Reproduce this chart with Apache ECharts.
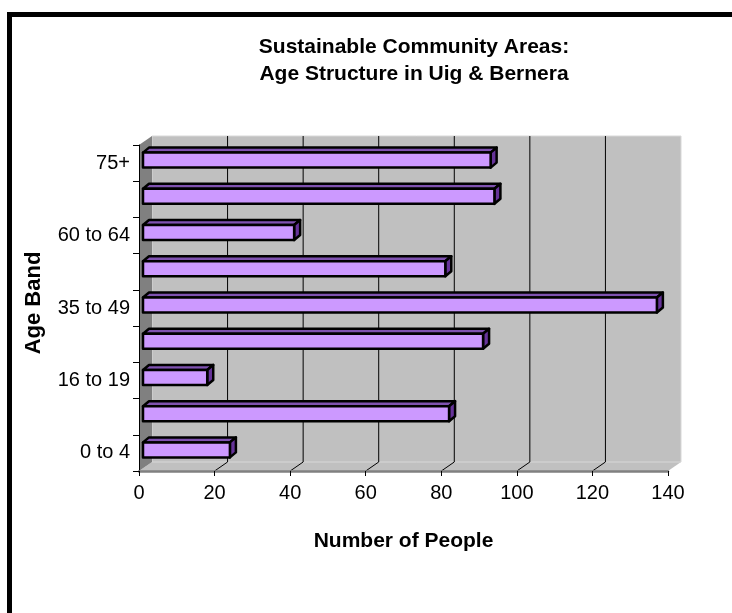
<!DOCTYPE html>
<html>
<head>
<meta charset="utf-8">
<script src="https://cdn.jsdelivr.net/npm/echarts@6/dist/echarts.min.js"></script>
<style>
html, body {margin:0; padding:0; background:#fff;}
#main {width:732px; height:613px;}
</style>
</head>
<body>
<div id="main"></div>
<script>
// age bands from bottom to top (only every other one is labelled)
var ageBands = ['0 to 4', '5 to 15', '16 to 19', '20 to 34', '35 to 49', '50 to 59', '60 to 64', '65 to 74', '75+'];
var people = [23, 81, 17, 90, 136, 80, 40, 93, 92];
var peopleTicks = [0, 20, 40, 60, 80, 100, 120, 140];

var FONT = "'Liberation Sans', Arial, sans-serif";

//3d box depth
var DX = 13, DY = -9;
//bar placement inside the box
var BAR_DX = 4, BAR_DY = -3, BAR_H = 15, TOP_DX = 6, TOP_DY = -5;

function renderWalls(params, api){
    var cs = params.coordSys;
    var x = cs.x, y = cs.y, w = cs.width, h = cs.height;
    var children = [];
    //floor
    children.push({type: 'polygon', shape: {points: [[x, y + h], [x + w, y + h], [x + w + DX, y + h + DY], [x + DX, y + h + DY]]},
        style: {fill: '#c0c0c0'}});
    //back wall
    children.push({type: 'rect', shape: {x: x + DX, y: y + DY, width: w, height: h},
        style: {fill: '#c0c0c0', stroke: '#d8d8d8', lineWidth: 1}});
    //side wall
    children.push({type: 'polygon', shape: {points: [[x, y], [x + DX, y + DY], [x + DX, y + h + DY], [x, y + h]]},
        style: {fill: '#808080'}});
    //gridlines on floor + back wall
    for (var i = 1; i < peopleTicks.length - 1; i++) {
        var px = api.coord([peopleTicks[i], 0])[0];
        children.push({type: 'polyline', shape: {points: [[px, y + h], [px + DX, y + h + DY], [px + DX, y + DY]]},
            style: {stroke: '#000', lineWidth: 1, fill: null}});
    }
    return {type: 'group', children: children};
}

function renderBar(params, api){
    var end = api.coord([api.value(0), api.value(1)]);
    var start = api.coord([0, api.value(1)]);
    var cy = end[1] + BAR_DY;
    var x0 = start[0] + BAR_DX, x1 = end[0] + BAR_DX;
    var y0 = cy - BAR_H / 2, y1 = cy + BAR_H / 2;
    var line = {stroke: '#000', lineWidth: 2.5, lineJoin: 'round'};
    return {type: 'group', children: [
        {type: 'polygon', shape: {points: [[x0, y0], [x0 + TOP_DX, y0 + TOP_DY], [x1 + TOP_DX, y0 + TOP_DY], [x1, y0]]},
            style: Object.assign({fill: '#7f52b0'}, line)},
        {type: 'polygon', shape: {points: [[x1, y0], [x1 + TOP_DX, y0 + TOP_DY], [x1 + TOP_DX, y1 + TOP_DY], [x1, y1]]},
            style: Object.assign({fill: '#663399'}, line)},
        {type: 'rect', shape: {x: x0, y: y0, width: x1 - x0, height: BAR_H},
            style: Object.assign({fill: '#cc99ff'}, line)}
    ]};
}

var barData = [];
for (var i = 0; i < people.length; i++) {
    barData.push([people[i], i]);
}

var chart = echarts.init(document.getElementById('main'));
chart.setOption({
    backgroundColor: '#fff',
    animation: false,
    title: {
        text: 'Sustainable Community Areas:\nAge Structure in Uig & Bernera',
        left: 409, top: 29, textAlign: 'center',
        textStyle: {fontFamily: FONT, fontSize: 21, fontWeight: 'bold', color: '#000', lineHeight: 27}
    },
    grid: {left: 139, top: 145, width: 529, height: 326, containLabel: false},
    xAxis: {
        type: 'value', min: 0, max: 140, interval: 20, z: 10,
        name: 'Number of People', nameLocation: 'middle', nameGap: 60,
        nameTextStyle: {fontFamily: FONT, fontSize: 21, fontWeight: 'bold', color: '#000'},
        axisLine: {show: true, lineStyle: {color: '#808080', width: 2.5}},
        axisTick: {show: true, length: 5, lineStyle: {color: '#000'}},
        axisLabel: {fontFamily: FONT, fontSize: 20, color: '#000', margin: 12},
        splitLine: {show: false}
    },
    yAxis: {
        type: 'category', data: ageBands, z: 10,
        name: 'Age Band', nameLocation: 'middle', nameGap: 94, nameRotate: 90,
        nameTextStyle: {fontFamily: FONT, fontSize: 22, fontWeight: 'bold', color: '#000', padding: [0, 0, 0, 10]},
        axisLine: {show: true, lineStyle: {color: '#000', width: 1}},
        axisTick: {show: true, length: 6, interval: 0, lineStyle: {color: '#000'}},
        axisLabel: {fontFamily: FONT, fontSize: 20, color: '#000', margin: 9, interval: 1},
        splitLine: {show: false}
    },
    graphic: [{
        type: 'rect', shape: {x: 9.5, y: 14.5, width: 900, height: 800},
        style: {fill: null, stroke: '#000', lineWidth: 5}, z: 100
    }],
    series: [
        {type: 'custom', coordinateSystem: 'cartesian2d', data: [[0, 0]], renderItem: renderWalls, z: 1, silent: true},
        {type: 'custom', coordinateSystem: 'cartesian2d', data: barData, encode: {x: 0, y: 1}, renderItem: renderBar, z: 2}
    ]
});
</script>
</body>
</html>
